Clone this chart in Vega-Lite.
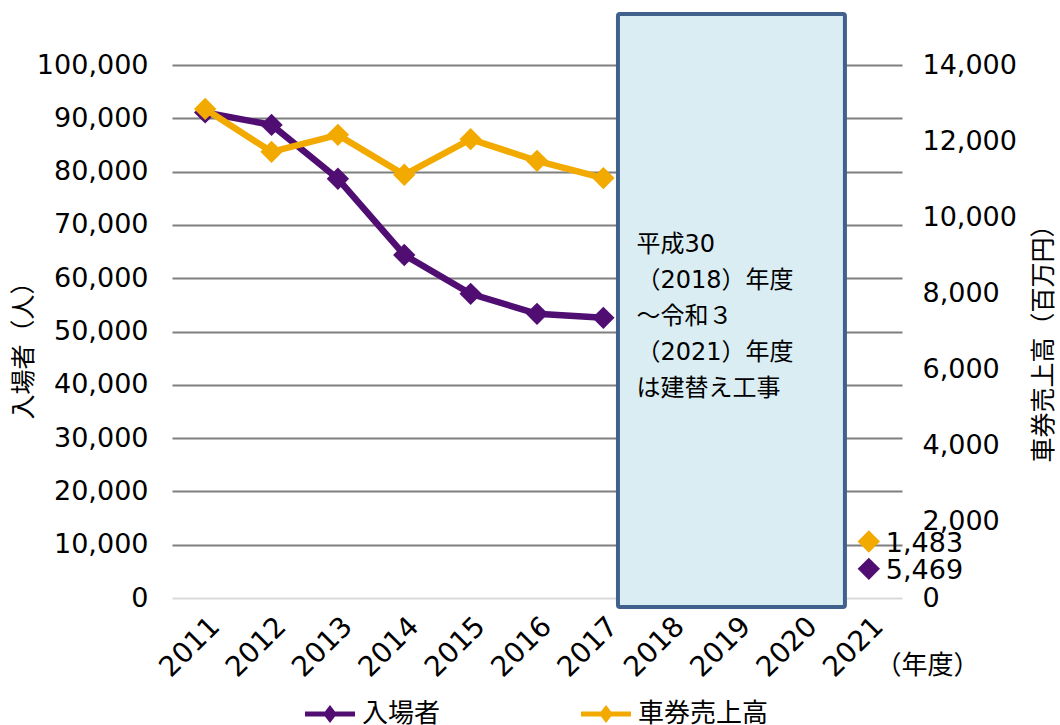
{
  "$schema": "https://vega.github.io/schema/vega-lite/v6.json",
  "width": 730,
  "height": 533,
  "autosize": {"type": "none"},
  "padding": {"left": 172, "top": 65, "right": 158, "bottom": 127},
  "background": "white",
  "config": {
    "view": {"stroke": null},
    "font": "DejaVu Sans, Noto Sans CJK JP",
    "axis": {"labelColor": "#000000", "titleColor": "#000000", "titleFontWeight": "normal", "labelFont": "DejaVu Sans", "titleFont": "Noto Sans CJK JP"},
    "legend": {"labelFont": "Noto Sans CJK JP", "labelColor": "#000000"}
  },
  "datasets": {
    "main": [
      {"year": 2011, "series": "入場者", "value": 91100},
      {"year": 2012, "series": "入場者", "value": 88760},
      {"year": 2013, "series": "入場者", "value": 78650},
      {"year": 2014, "series": "入場者", "value": 64360},
      {"year": 2015, "series": "入場者", "value": 57060},
      {"year": 2016, "series": "入場者", "value": 53310},
      {"year": 2017, "series": "入場者", "value": 52560},
      {"year": 2021, "series": "入場者", "value": 5469},
      {"year": 2011, "series": "車券売上高", "value": 12846},
      {"year": 2012, "series": "車券売上高", "value": 11719},
      {"year": 2013, "series": "車券売上高", "value": 12165},
      {"year": 2014, "series": "車券売上高", "value": 11116},
      {"year": 2015, "series": "車券売上高", "value": 12052},
      {"year": 2016, "series": "車券売上高", "value": 11483},
      {"year": 2017, "series": "車券売上高", "value": 11030},
      {"year": 2021, "series": "車券売上高", "value": 1483}
    ],
    "box": [
      {"x": 2017.22, "x2": 2020.64, "y": 109570, "y2": -1690, "tx": 2017.5, "ty": 68400, "label": "平成30\n（2018）年度\n～令和３\n（2021）年度\nは建替え工事"}
    ]
  },
  "layer": [
    {
      "layer": [
        {
          "data": {"name": "box"},
          "mark": {"type": "rect", "fill": "#daedf3", "stroke": "#41618d", "strokeWidth": 4, "cornerRadius": 2},
          "encoding": {
            "x": {"field": "x", "type": "quantitative", "scale": {"domain": [2010.5, 2021.5], "nice": false, "zero": false},
              "axis": {"values": [2011, 2012, 2013, 2014, 2015, 2016, 2017, 2018, 2019, 2020, 2021], "labelExpr": "format(datum.value, 'd')", "labelOverlap": false, "labelAngle": -45, "labelFontSize": 28, "labelPadding": 14, "domain": false, "ticks": false, "grid": false,
                "title": "（年度）", "titleFontSize": 26, "titleX": 703, "titleY": 67, "titleAlign": "left", "titleBaseline": "middle"}},
            "x2": {"field": "x2"},
            "y": {"field": "y", "type": "quantitative", "scale": {"domain": [0, 100000], "nice": false, "zero": true},
              "axis": {"orient": "left", "values": [0, 10000, 20000, 30000, 40000, 50000, 60000, 70000, 80000, 90000, 100000], "labelExpr": "format(datum.value, ',')", "labelOverlap": false, "labelFontSize": 27, "labelPadding": 24, "domain": false, "ticks": false, "grid": true,
                "gridColor": {"condition": {"test": "datum.value === 0", "value": "#d9d9d9"}, "value": "#7f7f7f"}, "gridWidth": 2,
                "title": "入場者（人）", "titleFontSize": 25, "titleAngle": -90, "titleX": -149, "titleY": 279, "titleAlign": "center", "titleBaseline": "middle"}},
            "y2": {"field": "y2"}
          }
        },
        {
          "data": {"name": "box"},
          "mark": {"type": "text", "align": "left", "baseline": "top", "fontSize": 24, "lineHeight": 36, "lineBreak": "\n", "font": "DejaVu Sans, Noto Sans CJK JP", "color": "#000000"},
          "encoding": {
            "x": {"field": "tx", "type": "quantitative"},
            "y": {"field": "ty", "type": "quantitative"},
            "text": {"field": "label"}
          }
        },
        {
          "data": {"name": "main"},
          "transform": [{"filter": "datum.series === '入場者' && datum.year <= 2017"}],
          "mark": {"type": "line", "strokeWidth": 6.5},
          "encoding": {
            "x": {"field": "year", "type": "quantitative"},
            "y": {"field": "value", "type": "quantitative"},
            "color": {"field": "series", "type": "nominal",
              "scale": {"domain": ["入場者", "車券売上高"], "range": ["#500e73", "#f2a900"]},
              "legend": {"title": null, "orient": "none", "legendX": 133, "legendY": 624, "direction": "horizontal", "columnPadding": 140, "labelFontSize": 26, "labelOffset": 7,
                "symbolType": "M-1,-0.1L-0.2,-0.1L0,-0.36L0.2,-0.1L1,-0.1L1,0.1L0.2,0.1L0,0.36L-0.2,0.1L-1,0.1Z", "symbolSize": 2500, "symbolStrokeWidth": 0,
                "encode": {"symbols": {"update": {"fill": {"scale": "color", "field": "value"}, "strokeWidth": {"value": 0}, "opacity": {"value": 1}}}}}}
          }
        },
        {
          "data": {"name": "main"},
          "transform": [{"filter": "datum.series === '入場者'"}],
          "mark": {"type": "point", "shape": "diamond", "filled": true, "size": 500, "opacity": 1},
          "encoding": {
            "x": {"field": "year", "type": "quantitative"},
            "y": {"field": "value", "type": "quantitative"},
            "color": {"field": "series", "type": "nominal"}
          }
        },
        {
          "data": {"name": "main"},
          "transform": [{"filter": "datum.series === '入場者' && datum.year === 2021"}],
          "mark": {"type": "text", "align": "left", "baseline": "middle", "dx": 17, "dy": 2, "fontSize": 27, "font": "DejaVu Sans", "color": "#000000"},
          "encoding": {
            "x": {"field": "year", "type": "quantitative"},
            "y": {"field": "value", "type": "quantitative"},
            "text": {"field": "value", "type": "quantitative", "format": ","}
          }
        }
      ]
    },
    {
      "layer": [
        {
          "data": {"name": "main"},
          "transform": [{"filter": "datum.series === '車券売上高' && datum.year <= 2017"}],
          "mark": {"type": "line", "strokeWidth": 6.5},
          "encoding": {
            "x": {"field": "year", "type": "quantitative"},
            "y": {"field": "value", "type": "quantitative", "scale": {"domain": [0, 14000], "nice": false, "zero": true},
              "axis": {"orient": "right", "values": [0, 2000, 4000, 6000, 8000, 10000, 12000, 14000], "labelExpr": "format(datum.value, ',')", "labelOverlap": false, "labelFontSize": 27, "labelPadding": 20, "labelAlign": "left", "domain": false, "ticks": false, "grid": false,
                "title": "車券売上高（百万円）", "titleFontSize": 25, "titleAngle": -90, "titleX": 141, "titleY": 272, "titleAlign": "center", "titleBaseline": "middle"}},
            "color": {"field": "series", "type": "nominal"}
          }
        },
        {
          "data": {"name": "main"},
          "transform": [{"filter": "datum.series === '車券売上高'"}],
          "mark": {"type": "point", "shape": "diamond", "filled": true, "size": 500, "opacity": 1},
          "encoding": {
            "x": {"field": "year", "type": "quantitative"},
            "y": {"field": "value", "type": "quantitative"},
            "color": {"field": "series", "type": "nominal"}
          }
        },
        {
          "data": {"name": "main"},
          "transform": [{"filter": "datum.series === '車券売上高' && datum.year === 2021"}],
          "mark": {"type": "text", "align": "left", "baseline": "middle", "dx": 17, "dy": 2, "fontSize": 27, "font": "DejaVu Sans", "color": "#000000"},
          "encoding": {
            "x": {"field": "year", "type": "quantitative"},
            "y": {"field": "value", "type": "quantitative"},
            "text": {"field": "value", "type": "quantitative", "format": ","}
          }
        }
      ]
    }
  ],
  "resolve": {"scale": {"y": "independent"}}
}
